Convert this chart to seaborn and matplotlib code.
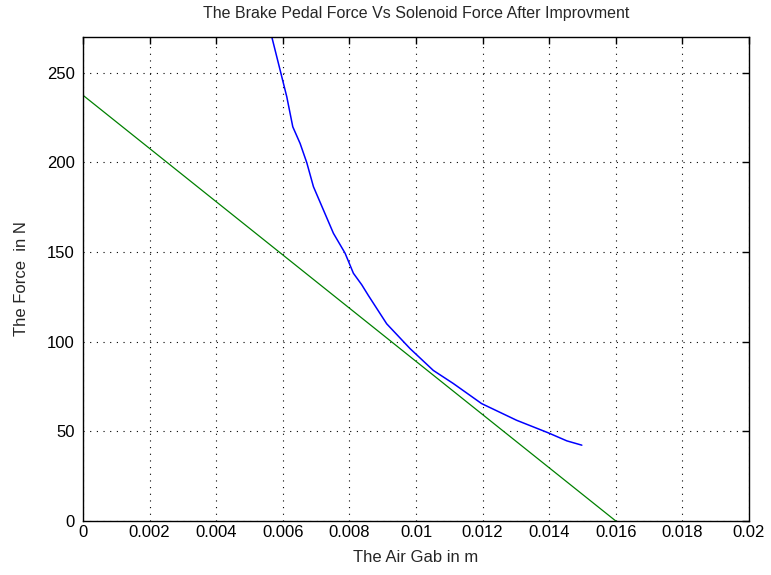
import numpy as np
import pandas as pd
import matplotlib
matplotlib.use('Agg')
import matplotlib.pyplot as plt
import seaborn as sns

# solenoid force (blue)
gap_solenoid = [0.00567, 0.00594, 0.00612, 0.00630, 0.00652, 0.00672, 0.00692, 0.00722,
                0.00752, 0.00787, 0.00812, 0.00837, 0.00857, 0.00912, 0.00982, 0.01052,
                0.01112, 0.01197, 0.01302, 0.01397, 0.01453, 0.01498]
force_solenoid = [270, 250, 236.6, 219.9, 210.6, 199.9, 186.5, 173.5,
                  160.5, 149.4, 138.2, 131.8, 125.8, 110, 96.2, 84,
                  76.7, 65.5, 56.2, 49.2, 44.7, 42.3]

# brake pedal force (green), straight line
gap_pedal = [0.0, 0.016]
force_pedal = [237.5, 0.0]

sns.set_style('white')
plt.rcParams['font.family'] = ['Liberation Sans', 'DejaVu Sans']

fig = plt.figure(figsize=(7.71, 5.75), dpi=100)
ax = fig.add_axes([83/771, 1-521/575, 666/771, 484/575])

sns.lineplot(x=gap_solenoid, y=force_solenoid, color='#0000ff', lw=1.1, sort=False, ax=ax)
sns.lineplot(x=gap_pedal, y=force_pedal, color='#008000', lw=0.9, sort=False, ax=ax)

ax.set_xlim(0, 0.02)
ax.set_ylim(0, 270)
ax.set_xticks(np.arange(0, 0.0201, 0.002))
ax.set_xticklabels(['0', '0.002', '0.004', '0.006', '0.008', '0.01', '0.012',
                    '0.014', '0.016', '0.018', '0.02'])
ax.set_yticks([0, 50, 100, 150, 200, 250])
ax.grid(True, color='black', linestyle=(0, (1, 5)), linewidth=0.8)
ax.tick_params(direction='in', top=True, right=True, length=5, width=1,
               labelsize=12, colors='black')
ax.tick_params(axis='x', pad=3)
ax.tick_params(axis='y', pad=6)
for s in ax.spines.values():
    s.set_color('black')
    s.set_linewidth(1)

ax.set_title('The Brake Pedal Force Vs Solenoid Force After Improvment', fontsize=11.5, pad=14)
ax.set_xlabel('The Air Gab in m', fontsize=12, labelpad=7)
ax.set_ylabel('The Force  in N', fontsize=12, labelpad=13)

fig.savefig('out.png', dpi=100)
